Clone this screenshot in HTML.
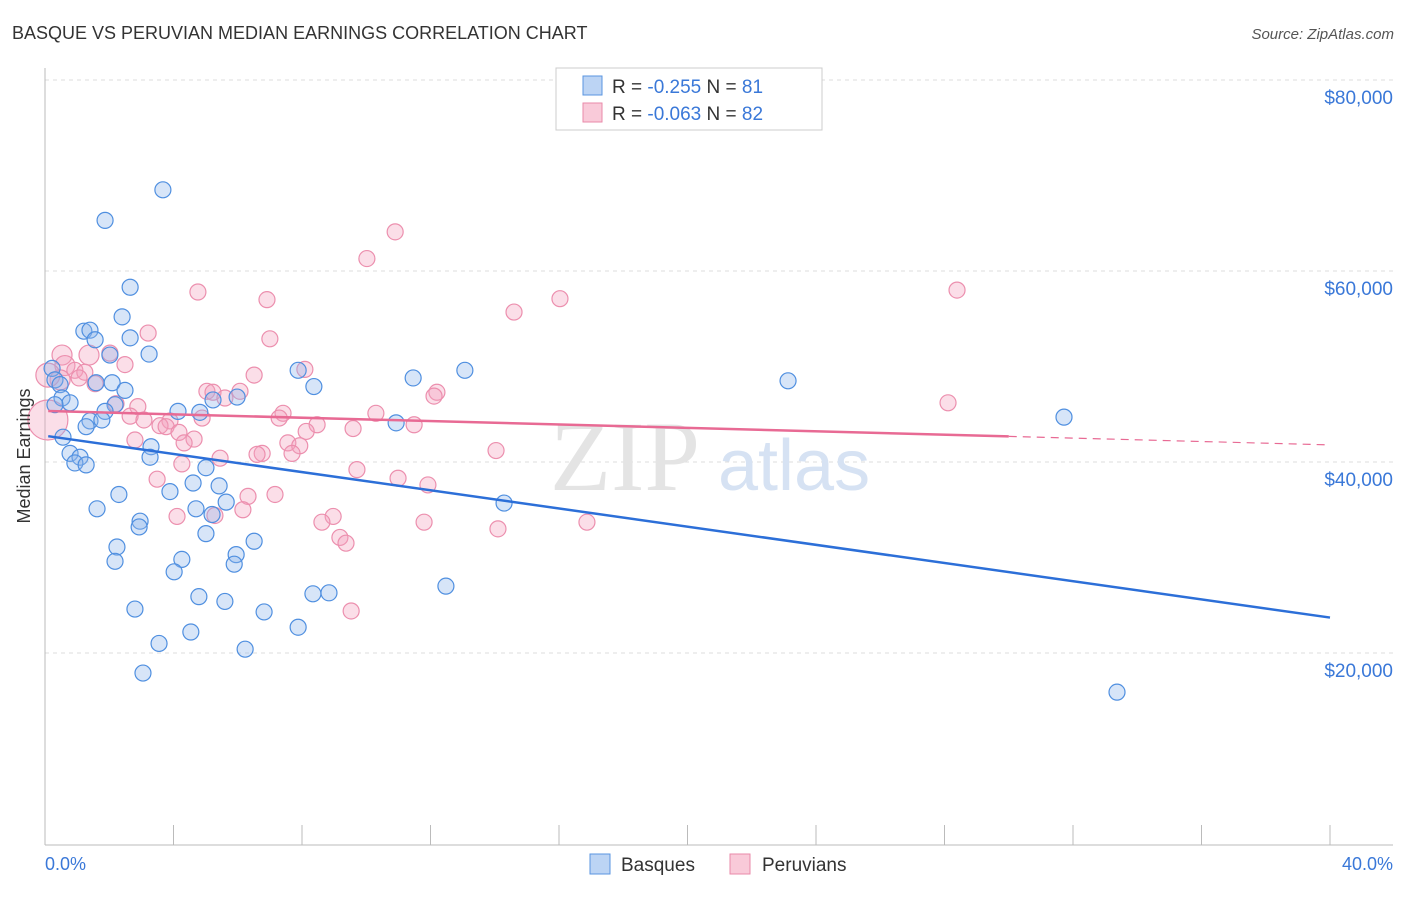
<!DOCTYPE html>
<html><head><meta charset="utf-8"><style>
body{margin:0;background:#fff;font-family:"Liberation Sans",sans-serif}
</style></head><body>
<svg id="chart" width="1406" height="892" xmlns="http://www.w3.org/2000/svg" font-family="Liberation Sans, sans-serif">
<text x="12" y="39" font-size="18" fill="#333">BASQUE VS PERUVIAN MEDIAN EARNINGS CORRELATION CHART</text>
<text x="1394" y="39" font-size="15" fill="#555" font-style="italic" text-anchor="end">Source: ZipAtlas.com</text>
<g id="grid"></g>
<text x="700" y="490" font-size="100" fill="#e4e4e4" font-family="Liberation Serif, serif" text-anchor="end">ZIP</text>
<text x="718" y="490" font-size="72" fill="#d6e2f3" text-anchor="start">atlas</text>
<g id="axes"></g>
<g id="pts"></g>
<g id="trend"></g>
<text x="30" y="456" font-size="18" fill="#333" text-anchor="middle" transform="rotate(-90 30 456)">Median Earnings</text>
<text x="45" y="870" font-size="18" fill="#3a78d8">0.0%</text>
<text x="1393" y="870" font-size="18" fill="#3a78d8" text-anchor="end">40.0%</text>
<g>
<rect x="556" y="68" width="266" height="62" fill="#fff" stroke="#ccc"/>
<rect x="583" y="76" width="19" height="19" fill="#bcd4f4" stroke="#5a95e0"/>
<rect x="583" y="103" width="19" height="19" fill="#f9cad9" stroke="#e98aa9"/>
<text x="612" y="93" font-size="19" fill="#333">R = <tspan fill="#3a78d8">-0.255</tspan>   N = <tspan fill="#3a78d8">81</tspan></text>
<text x="612" y="120" font-size="19" fill="#333">R = <tspan fill="#3a78d8">-0.063</tspan>   N = <tspan fill="#3a78d8">82</tspan></text>
</g>
<g>
<rect x="590" y="854" width="20" height="20" fill="#bcd4f4" stroke="#5a95e0"/>
<text x="621" y="871" font-size="19" fill="#333">Basques</text>
<rect x="730" y="854" width="20" height="20" fill="#f9cad9" stroke="#e98aa9"/>
<text x="762" y="871" font-size="19" fill="#333">Peruvians</text>
</g>
</svg>
<script>
const yTicks=[20000,40000,60000,80000];
const yTickLabels=["$20,000","$40,000","$60,000","$80,000"];
const basqueX=[3.67,1.87,2.65,2.40,1.21,1.40,1.56,2.65,3.24,2.02,0.22,7.88,13.07,11.46,23.13,8.37,0.31,0.47,1.59,2.09,2.49,0.53,0.78,0.31,5.98,5.23,2.18,4.14,1.87,4.82,31.72,10.93,1.40,1.77,1.28,0.56,3.30,0.78,1.09,3.27,0.93,1.28,5.01,4.61,5.42,3.89,2.30,5.64,14.29,1.62,4.70,5.20,2.96,2.93,5.01,6.51,2.24,5.95,4.26,2.18,5.89,4.02,12.48,8.84,8.34,4.79,5.60,2.80,6.82,7.88,4.54,3.55,6.23,3.05,33.37];
const basqueY=[68.5,65.3,58.3,55.2,53.7,53.8,52.8,53.0,51.3,51.2,49.8,49.6,49.6,48.8,48.5,47.9,48.6,48.1,48.3,48.3,47.5,46.7,46.2,46.0,46.8,46.5,46.0,45.3,45.3,45.2,44.7,44.1,44.3,44.4,43.7,42.6,41.6,40.9,40.5,40.5,39.9,39.7,39.4,37.8,37.5,36.9,36.6,35.8,35.7,35.1,35.1,34.5,33.8,33.2,32.5,31.7,31.1,30.3,29.8,29.6,29.3,28.5,27.0,26.3,26.2,25.9,25.4,24.6,24.3,22.7,22.2,21.0,20.4,17.9,15.9];
const peruX=[10.90,10.02,28.39,4.76,6.91,16.03,14.60,3.21,7.00,0.53,1.37,2.02,0.62,2.49,8.09,0.93,1.24,6.51,1.06,0.47,1.56,5.04,5.23,6.07,12.20,12.11,5.60,2.21,28.11,2.89,7.41,10.30,2.65,4.89,7.29,3.08,3.89,8.47,11.49,3.58,3.77,8.13,9.59,4.17,4.64,2.80,7.56,4.33,7.93,14.04,6.76,7.69,6.60,5.45,4.26,9.71,10.99,11.92,3.49,7.16,6.32,4.11,5.29,6.16,8.97,8.62,11.80,16.87,14.10,9.18,9.37,9.53,0.09,0.09];
const peruY=[64.1,61.3,58.0,57.8,57.0,57.1,55.7,53.5,52.9,51.2,51.2,51.4,50.1,50.2,49.7,49.6,49.4,49.1,48.8,48.6,48.2,47.4,47.3,47.4,47.3,46.9,46.7,46.1,46.2,45.8,45.1,45.1,44.8,44.6,44.6,44.4,44.3,43.9,43.9,43.8,43.7,43.2,43.5,43.1,42.4,42.3,42.0,42.0,41.7,41.2,40.9,40.9,40.8,40.4,39.8,39.2,38.3,37.6,38.2,36.6,36.4,34.3,34.4,35.0,34.3,33.7,33.7,33.7,33.0,32.1,31.5,24.4,44.4,49.1];
const peruR=[8,8,8,8,8,8,8,8,8,10,10,8,10,8,8,8,8,8,8,10,8,8,8,8,8,8,8,8,8,8,8,8,8,8,8,8,8,8,8,8,8,8,8,8,8,8,8,8,8,8,8,8,8,8,8,8,8,8,8,8,8,8,8,8,8,8,8,8,8,8,8,8,20,12];
const trendBasque=[42.75,-0.476];
const trendPeru=[45.35,-0.089];
const peruSolidEnd=30.0;
const NS="http://www.w3.org/2000/svg";
const xs=p=>45+p/40*1285;
const ys=v=>844-v*0.00955;
function mk(tag,attrs,parent){const e=document.createElementNS(NS,tag);for(const k in attrs)e.setAttribute(k,attrs[k]);parent.appendChild(e);return e;}
const grid=document.getElementById('grid'),axes=document.getElementById('axes'),pts=document.getElementById('pts'),tr=document.getElementById('trend'),svg=document.getElementById('chart');
yTicks.forEach((t,i)=>{
 const l=mk('line',{x1:45,x2:1393,y1:ys(t),y2:ys(t),stroke:'#ddd','stroke-dasharray':'4 4'},grid);
 
 
 const tx=mk('text',{x:1393,y:ys(t)+24,'font-size':19,fill:'#3a78d8','text-anchor':'end'},svg);
 tx.textContent=yTickLabels[i];
 
 
});
mk('line',{x1:45,x2:45,y1:68,y2:845,stroke:'#bbb'},axes);
mk('line',{x1:45,x2:1393,y1:845,y2:845,stroke:'#bbb'},axes);
for(let p=4;p<=40;p+=4){const t=mk('line',{x1:xs(p),x2:xs(p),y1:825,y2:845,stroke:'#bbb'},axes);
 
 }
peruX.forEach((x,i)=>{const c=mk('circle',{cx:xs(x),cy:ys(peruY[i]*1000),r:peruR[i],fill:'rgba(244,160,190,0.35)',stroke:'#ec8fae','stroke-width':1.2},pts);
 
 });
basqueX.forEach((x,i)=>{const c=mk('circle',{cx:xs(x),cy:ys(basqueY[i]*1000),r:8,fill:'rgba(140,180,235,0.35)',stroke:'#4f8fe0','stroke-width':1.2},pts);
 
 });
const tb=p=>(trendBasque[0]+trendBasque[1]*p)*1000, tp=p=>(trendPeru[0]+trendPeru[1]*p)*1000;
const l1=mk('line',{x1:xs(0.1),y1:ys(tb(0.1)),x2:xs(40),y2:ys(tb(40)),stroke:'#2c6fd8','stroke-width':2.5},tr);


const l2=mk('line',{x1:xs(0.1),y1:ys(tp(0.1)),x2:xs(peruSolidEnd),y2:ys(tp(peruSolidEnd)),stroke:'#e86a94','stroke-width':2.5},tr);


const l3=mk('line',{x1:xs(peruSolidEnd),y1:ys(tp(peruSolidEnd)),x2:xs(40),y2:ys(tp(40)),stroke:'#e86a94','stroke-width':1.2,'stroke-dasharray':'8 6'},tr);


</script>
</body></html>
